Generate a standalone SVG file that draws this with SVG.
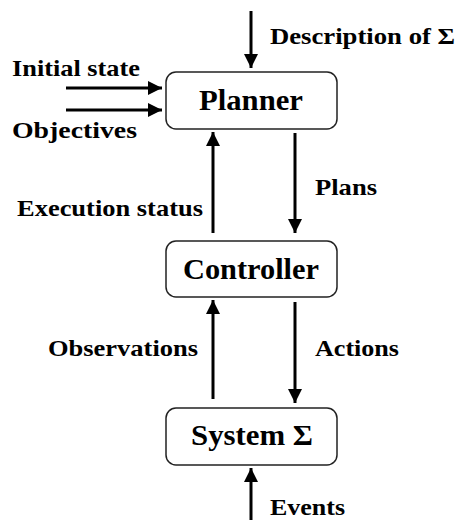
<svg xmlns="http://www.w3.org/2000/svg" width="457" height="520" viewBox="0 0 457 520">
<style>
.box{fill:#fff;stroke:#222;stroke-width:1.5}
text{font-family:"Liberation Serif","Times New Roman",serif;font-weight:bold;fill:#000}
.lbl{font-size:24px}
.big{font-size:30px}
.arr{stroke:#000;stroke-width:3;fill:none;marker-end:url(#ah)}
</style>
<defs>
<marker id="ah" markerUnits="userSpaceOnUse" markerWidth="14" markerHeight="14" refX="14" refY="7" orient="auto">
<path d="M0,0 L14,7 L0,14 z" fill="#000"/>
</marker>
</defs>
<rect width="457" height="520" fill="#fff"/>
<g id="connectors">
<line class="arr" x1="251" y1="11" x2="251" y2="68"/>
<line class="arr" x1="66" y1="88" x2="162" y2="88"/>
<line class="arr" x1="66" y1="110" x2="162" y2="110"/>
<line class="arr" x1="213" y1="233" x2="213" y2="132"/>
<line class="arr" x1="295" y1="133" x2="295" y2="233"/>
<line class="arr" x1="213" y1="399" x2="213" y2="300"/>
<line class="arr" x1="295" y1="302" x2="295" y2="403"/>
<line class="arr" x1="251" y1="520" x2="251" y2="468"/>
<text class="lbl" x="270" y="44" textLength="185" lengthAdjust="spacingAndGlyphs">Description of Σ</text>
<text class="lbl" x="12" y="76" textLength="128" lengthAdjust="spacingAndGlyphs">Initial state</text>
<text class="lbl" x="12" y="138" textLength="125" lengthAdjust="spacingAndGlyphs">Objectives</text>
<text class="lbl" x="315" y="195" textLength="62" lengthAdjust="spacingAndGlyphs">Plans</text>
<text class="lbl" x="17" y="216" textLength="186" lengthAdjust="spacingAndGlyphs">Execution status</text>
<text class="lbl" x="48" y="356" textLength="150" lengthAdjust="spacingAndGlyphs">Observations</text>
<text class="lbl" x="315" y="356" textLength="84" lengthAdjust="spacingAndGlyphs">Actions</text>
<text class="lbl" x="270" y="515" textLength="75" lengthAdjust="spacingAndGlyphs">Events</text>
</g>
<g id="planner">
<rect class="box" x="166" y="72" width="171" height="57" rx="10"/>
<text class="big" x="199" y="110" textLength="104" lengthAdjust="spacingAndGlyphs">Planner</text>
</g>
<g id="controller">
<rect class="box" x="166" y="241" width="171" height="56" rx="10"/>
<text class="big" x="183" y="279" textLength="136" lengthAdjust="spacingAndGlyphs">Controller</text>
</g>
<g id="system">
<rect class="box" x="166" y="408" width="171" height="57" rx="10"/>
<text class="big" x="191" y="445" textLength="122" lengthAdjust="spacingAndGlyphs">System Σ</text>
</g>
</svg>
